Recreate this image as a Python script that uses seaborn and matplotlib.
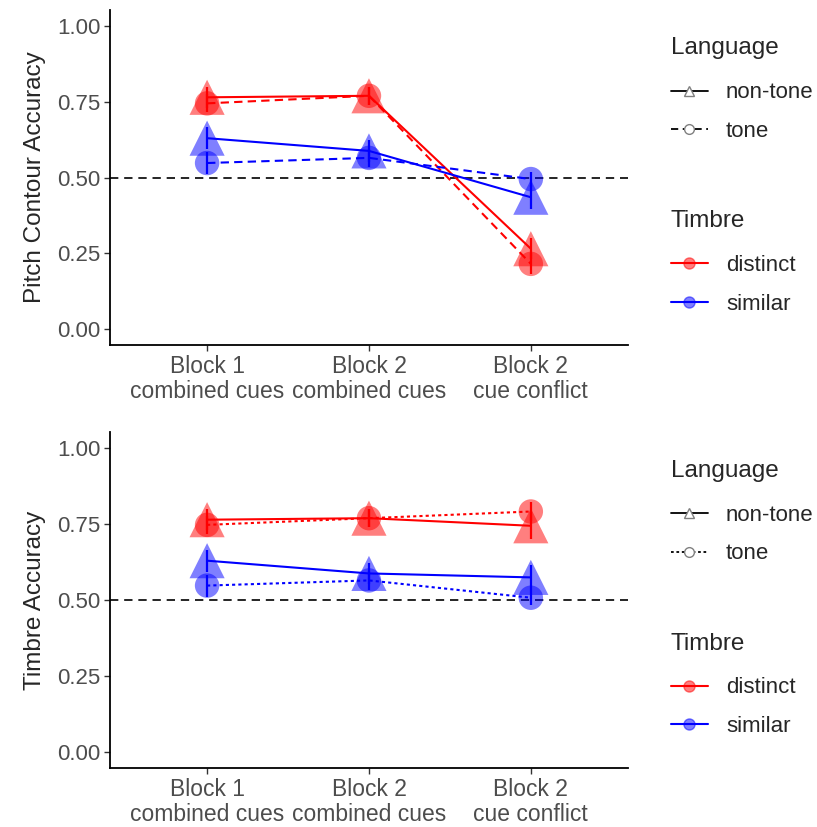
import numpy as np
import pandas as pd
import seaborn as sns
import matplotlib
matplotlib.use("Agg")
import matplotlib.pyplot as plt
from matplotlib.lines import Line2D

sns.set_style("white")
plt.rcParams["font.family"] = ["Liberation Sans", "DejaVu Sans"]

blocks = ["Block 1\ncombined cues", "Block 2\ncombined cues", "Block 2\ncue conflict"]
timbre = ["distinct"] * 6 + ["similar"] * 6
language = (["non-tone"] * 3 + ["tone"] * 3) * 2
block_idx = [0, 1, 2] * 4

# pitch contour accuracy (top)
pitch_acc = [0.765, 0.770, 0.265, 0.745, 0.770, 0.215,
             0.630, 0.588, 0.435, 0.548, 0.565, 0.495]
pitch_se = [0.035, 0.030, 0.035, 0.030, 0.030, 0.035,
            0.036, 0.035, 0.040, 0.036, 0.030, 0.025]

# timbre accuracy (bottom)
timbre_acc = [0.765, 0.770, 0.745, 0.748, 0.770, 0.792,
              0.630, 0.588, 0.575, 0.548, 0.565, 0.508]
timbre_se = [0.035, 0.030, 0.045, 0.030, 0.030, 0.030,
             0.036, 0.035, 0.040, 0.036, 0.030, 0.025]

pal = {"distinct": "#FF0000", "similar": "#0000FF"}
mk = {"non-tone": "^", "tone": "o"}
sizes = {"non-tone": 640, "tone": 310}


def panel(ax, acc, se, ylab, tone_dash):
    df = pd.DataFrame({"block": block_idx, "acc": acc, "se": se,
                       "Timbre": timbre, "Language": language})
    ax.axhline(0.5, color="black", ls=(0, (5, 3.5)), lw=1.2, zorder=1)
    sns.scatterplot(data=df, x="block", y="acc", hue="Timbre", style="Language",
                    size="Language", sizes=sizes,
                    palette=pal, markers=mk, alpha=0.5, linewidth=0,
                    legend=False, ax=ax, zorder=2)
    # error bars
    for _, r in df.iterrows():
        ax.vlines(r["block"], r["acc"] - r["se"], r["acc"] + r["se"],
                  color=pal[r["Timbre"]], lw=1.6, zorder=3)
    sns.lineplot(data=df, x="block", y="acc", hue="Timbre", style="Language",
                 palette=pal, dashes={"non-tone": "", "tone": tone_dash},
                 lw=1.5, legend=False, ax=ax, zorder=3)
    ax.set_xlim(-0.6, 2.6)
    ax.set_ylim(-0.053, 1.053)
    ax.set_xticks(range(3))
    ax.set_xticklabels(blocks, fontsize=16.5, color="#4D4D4D", linespacing=1.12)
    ax.set_yticks([0, 0.25, 0.5, 0.75, 1.0])
    ax.set_yticklabels(["0.00", "0.25", "0.50", "0.75", "1.00"], fontsize=16, color="#4D4D4D")
    ax.set_xlabel("")
    ax.set_ylabel(ylab, fontsize=17.5, labelpad=8)
    ax.tick_params(axis="both", length=4, width=1, color="#333333", direction="out",
                   bottom=True, left=True, pad=3)
    for s in ["top", "right"]:
        ax.spines[s].set_visible(False)
    for s in ["left", "bottom"]:
        ax.spines[s].set_color("black")
        ax.spines[s].set_linewidth(1.3)

    h_lang = [Line2D([], [], color="black", lw=1.3, marker="^", ms=7,
                     mfc="white", mec="#808080", ls="-"),
              Line2D([], [], color="black", lw=1.3, marker="o", ms=7,
                     mfc="white", mec="#808080", ls=(0, tone_dash))]
    h_tim = [Line2D([], [], color=pal[t], lw=1.5, marker="o", ms=8,
                    markerfacecolor=matplotlib.colors.to_rgba(pal[t], 0.5),
                    markeredgecolor=matplotlib.colors.to_rgba(pal[t], 0.5))
             for t in ["distinct", "similar"]]
    leg1 = ax.legend(h_lang, ["non-tone", "tone"], title="Language",
                     loc="upper left", bbox_to_anchor=(1.065, 0.945), frameon=False,
                     fontsize=16, title_fontsize=17.5, handlelength=1.7,
                     labelspacing=0.8, handletextpad=0.8, borderaxespad=0)
    leg1._legend_box.align = "left"
    leg1._legend_box.sep = 16.5
    ax.add_artist(leg1)
    leg2 = ax.legend(h_tim, ["distinct", "similar"], title="Timbre",
                     loc="upper left", bbox_to_anchor=(1.065, 0.43), frameon=False,
                     fontsize=16, title_fontsize=17.5, handlelength=1.7,
                     labelspacing=0.8, handletextpad=0.8, borderaxespad=0)
    leg2._legend_box.align = "left"
    leg2._legend_box.sep = 16.5


fig = plt.figure(figsize=(8.17, 8.27), dpi=100)
ax1 = fig.add_axes([0.1346, 0.5828, 0.634, 0.405])
ax2 = fig.add_axes([0.1346, 0.0713, 0.634, 0.406])
panel(ax1, pitch_acc, pitch_se, "Pitch Contour Accuracy", (4, 2.5))
panel(ax2, timbre_acc, timbre_se, "Timbre Accuracy", (1.5, 1.5))

fig.savefig("out.png", dpi=100)
